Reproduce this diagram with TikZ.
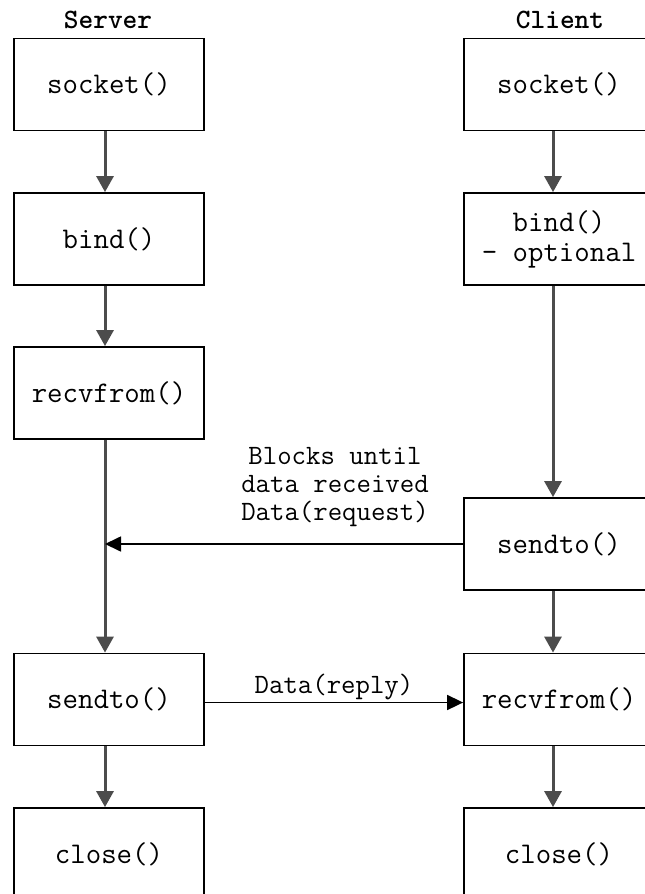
\documentclass[tikz,border=0pt]{standalone}
\usepackage{fontspec}
\usetikzlibrary{arrows.meta}

\begin{document}
\begin{tikzpicture}[x=1pt, y=-1pt,
    box/.style={draw, line width=1.8pt, minimum width=190pt, minimum height=92pt,
      align=center, font=\ttfamily\fontsize{30}{30}\selectfont},
    flow/.style={draw=black!70, line width=3pt, -{Triangle[length=16pt, width=17pt]}},
    msg/.style={draw=black, line width=1.7pt, -{Triangle[length=16pt, width=15pt]}},
    lbl/.style={align=center, font=\ttfamily\fontsize{28}{28}\selectfont}]
    \useasboundingbox (0,0) rectangle (645,894);
    \clip (0,0) rectangle (645,894);
    % axes of the two columns
    \coordinate (sx) at (105,0);
    \coordinate (cx) at (553,0);
    \node[lbl, font=\ttfamily\bfseries\fontsize{28}{28}\selectfont] (shead) at (108,20) {Server};
    \node[lbl, font=\ttfamily\bfseries\fontsize{28}{28}\selectfont] (chead) at (560,20) {Client};
    % server side
    \node[box] (s1) at (109,84.5) {socket()};
    \node[box] (s2) at (109,239) {bind()};
    \node[box] (s3) at (109,393) {recvfrom()};
    \node[box] (s4) at (109,699.5) {sendto()};
    \node[box] (s5) at (109,854) {close()};
    % client side
    \node[box] (c1) at (559,84.5) {socket()};
    \node[box] (c2) at (559,239) {bind()\\- optional};
    \node[box] (c3) at (559,544) {sendto()};
    \node[box] (c4) at (559,699.5) {recvfrom()};
    \node[box] (c5) at (559,854) {close()};
    \foreach \a/\b in {s1/s2,s2/s3,s3/s4,s4/s5}
      \draw[flow] (\a.south -| sx) -- (\b.north -| sx);
    \foreach \a/\b in {c1/c2,c2/c3,c3/c4,c4/c5}
      \draw[flow] (\a.south -| cx) -- (\b.north -| cx);
    % messages
    \draw[msg] (c3.west) -- (c3.west -| sx);
    \node[lbl] (req) at (335,487) {Blocks until\\data received\\Data(request)};
    \draw[msg] ([yshift=-3pt]s4.east) -- node[lbl, above=-2pt] (rep) {Data(reply)} ([yshift=-3pt]c4.west);
\end{tikzpicture}
\end{document}
